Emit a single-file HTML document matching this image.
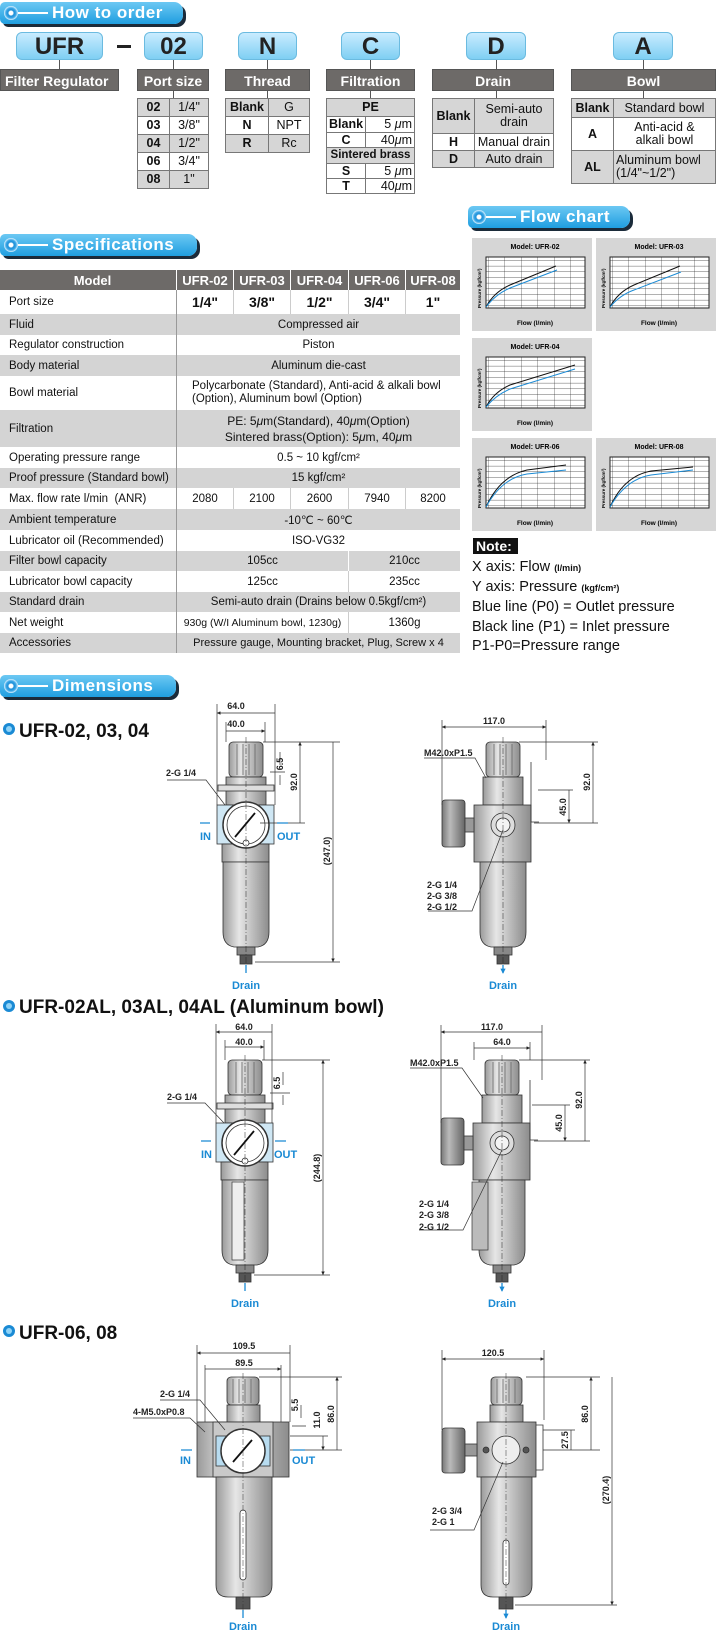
<!DOCTYPE html>
<html><head><meta charset="utf-8">
<style>
*{margin:0;padding:0;box-sizing:border-box}
body{width:717px;height:1631px;background:#fff;position:relative;overflow:hidden;font-family:"Liberation Sans",Arial,sans-serif;color:#111}
.a{position:absolute}
.band{position:absolute;height:22px;border-radius:5px 9px 9px 5px;background:linear-gradient(#6cc8f3,#1f9ee0);box-shadow:3px 3px 0 #1b2b3a;color:#fff;font-weight:bold;font-size:17px;line-height:22px;padding-left:52px;letter-spacing:.5px}
.band:before{content:"";position:absolute;left:4px;top:4px;width:14px;height:14px;border-radius:50%;background:radial-gradient(circle at 50% 50%,#fff 0 2px,#1b8fd8 3px,#3aa6e6 5px,#dff3ff 7px)}
.band:after{content:"";position:absolute;left:18px;top:10px;width:30px;height:2px;background:#fff}
.code{position:absolute;top:32px;height:28px;border-radius:6px;background:linear-gradient(#c9ecff,#7fcff3);border:1px solid #6bbbe0;font-size:24px;font-weight:bold;text-align:center;line-height:28px;color:#222}
.lab{position:absolute;top:69px;height:22px;background:#6d6a68;color:#fff;font-weight:bold;font-size:14px;text-align:center;line-height:22px;border:1px solid #555}
table.o{position:absolute;border-collapse:collapse;font-size:12.5px}
table.o td{border:1px solid #777;text-align:center;padding:0 2px;line-height:13px}
table.o tr.g td{background:#d6d6d6}
table.o td.b{font-weight:bold}
.vl{position:absolute;width:1px;background:#555}
.sp{position:absolute;left:0;width:460px;font-size:11.5px}
.sp div{position:absolute;top:0;height:100%;display:flex;align-items:center;justify-content:center;text-align:center}
.sp .l{left:0;width:177px;justify-content:flex-start;padding-left:9px;border-right:1px solid #999}
.g{background:#d4d4d4}
</style></head><body>

<div class="band" style="left:0;top:2px;width:183px">How to order</div>

<div class="code" style="left:16px;width:87px">UFR</div>
<div class="a" style="left:117px;top:45px;width:14px;height:3px;background:#222"></div>
<div class="code" style="left:144px;width:59px">02</div>
<div class="code" style="left:238px;width:59px">N</div>
<div class="code" style="left:341px;width:59px">C</div>
<div class="code" style="left:466px;width:60px">D</div>
<div class="code" style="left:613px;width:60px">A</div>
<div class="vl" style="left:59px;top:60px;height:9px"></div>
<div class="vl" style="left:173px;top:60px;height:9px"></div>
<div class="vl" style="left:267px;top:60px;height:9px"></div>
<div class="vl" style="left:370px;top:60px;height:9px"></div>
<div class="vl" style="left:496px;top:60px;height:9px"></div>
<div class="vl" style="left:643px;top:60px;height:9px"></div>
<div class="vl" style="left:173px;top:91px;height:7px"></div>
<div class="vl" style="left:267px;top:91px;height:7px"></div>
<div class="vl" style="left:370px;top:91px;height:7px"></div>
<div class="vl" style="left:496px;top:91px;height:7px"></div>
<div class="vl" style="left:643px;top:91px;height:7px"></div>

<div class="lab" style="left:0;width:119px;text-align:left;padding-left:4px">Filter Regulator</div>
<div class="lab" style="left:137px;width:72px">Port size</div>
<div class="lab" style="left:225px;width:85px">Thread</div>
<div class="lab" style="left:326px;width:89px">Filtration</div>
<div class="lab" style="left:432px;width:122px">Drain</div>
<div class="lab" style="left:571px;width:145px">Bowl</div>

<table class="o" style="left:137px;top:98px;width:72px">
<tr class="g" style="height:18px"><td class="b" style="width:32px">02</td><td>1/4"</td></tr>
<tr style="height:18px"><td class="b">03</td><td>3/8"</td></tr>
<tr class="g" style="height:18px"><td class="b">04</td><td>1/2"</td></tr>
<tr style="height:18px"><td class="b">06</td><td>3/4"</td></tr>
<tr class="g" style="height:18px"><td class="b">08</td><td>1"</td></tr>
</table>
<table class="o" style="left:225px;top:98px;width:85px">
<tr class="g" style="height:18px"><td class="b" style="width:43px">Blank</td><td>G</td></tr>
<tr style="height:18px"><td class="b">N</td><td>NPT</td></tr>
<tr class="g" style="height:18px"><td class="b">R</td><td>Rc</td></tr>
</table>
<table class="o" style="left:326px;top:98px;width:89px">
<tr class="g" style="height:18px"><td class="b" colspan="2">PE</td></tr>
<tr style="height:16px"><td class="b" style="width:38px">Blank</td><td style="text-align:right">5 <i>μ</i>m</td></tr>
<tr style="height:15px"><td class="b">C</td><td style="text-align:right">40<i>μ</i>m</td></tr>
<tr class="g" style="height:16px"><td class="b" colspan="2" style="font-size:11.5px">Sintered brass</td></tr>
<tr style="height:15px"><td class="b">S</td><td style="text-align:right">5 <i>μ</i>m</td></tr>
<tr style="height:15px"><td class="b">T</td><td style="text-align:right">40<i>μ</i>m</td></tr>
</table>
<table class="o" style="left:432px;top:98px;width:122px">
<tr class="g" style="height:35px"><td class="b" style="width:42px">Blank</td><td>Semi-auto<br>drain</td></tr>
<tr style="height:17px"><td class="b">H</td><td>Manual drain</td></tr>
<tr class="g" style="height:17px"><td class="b">D</td><td>Auto drain</td></tr>
</table>
<table class="o" style="left:571px;top:98px;width:145px">
<tr class="g" style="height:19px"><td class="b" style="width:42px">Blank</td><td>Standard bowl</td></tr>
<tr style="height:33px"><td class="b">A</td><td>Anti-acid &amp;<br>alkali bowl</td></tr>
<tr class="g" style="height:33px"><td class="b">AL</td><td style="text-align:left">Aluminum bowl<br>(1/4"~1/2")</td></tr>
</table>

<div class="band" style="left:0;top:234px;width:197px">Specifications</div>

<div class="sp" style="top:270px;height:20px;background:#6d6a68;color:#fff;font-weight:bold;font-size:13px">
<div class="l" style="justify-content:center;border-right:1px solid #fff">Model</div>
<div style="left:177px;width:57px;border-right:1px solid #fff">UFR-02</div><div style="left:234px;width:57px;border-right:1px solid #fff">UFR-03</div><div style="left:291px;width:58px;border-right:1px solid #fff">UFR-04</div><div style="left:349px;width:57px;border-right:1px solid #fff">UFR-06</div><div style="left:406px;width:54px">UFR-08</div></div>
<div class="sp" style="top:290px;height:24px;font-size:14px;font-weight:bold"><div class="l" style="font-size:11.5px;font-weight:normal">Port size</div>
<div style="left:177px;width:57px;border-right:1px solid #ccc">1/4"</div><div style="left:234px;width:57px;border-right:1px solid #ccc">3/8"</div><div style="left:291px;width:58px;border-right:1px solid #ccc">1/2"</div><div style="left:349px;width:57px;border-right:1px solid #ccc">3/4"</div><div style="left:406px;width:54px">1"</div></div>
<div class="sp g" style="top:314px;height:21px"><div class="l">Fluid</div><div style="left:177px;width:283px">Compressed air</div></div>
<div class="sp" style="top:335px;height:20px"><div class="l">Regulator construction</div><div style="left:177px;width:283px">Piston</div></div>
<div class="sp g" style="top:355px;height:21px"><div class="l">Body material</div><div style="left:177px;width:283px">Aluminum die-cast</div></div>
<div class="sp" style="top:376px;height:34px"><div class="l">Bowl material</div><div style="left:177px;width:283px;text-align:left;justify-content:flex-start;padding-left:15px;line-height:13px"><span>Polycarbonate (Standard), Anti-acid &amp; alkali bowl<br>(Option), Aluminum bowl (Option)</span></div></div>
<div class="sp g" style="top:410px;height:37px"><div class="l">Filtration</div><div style="left:177px;width:283px;line-height:16px;font-size:12px"><span>PE: 5<i>μ</i>m(Standard), 40<i>μ</i>m(Option)<br>Sintered brass(Option): 5<i>μ</i>m, 40<i>μ</i>m</span></div></div>
<div class="sp" style="top:447px;height:21px"><div class="l">Operating pressure range</div><div style="left:177px;width:283px">0.5 ~ 10 kgf/cm²</div></div>
<div class="sp g" style="top:468px;height:20px"><div class="l">Proof pressure (Standard bowl)</div><div style="left:177px;width:283px">15 kgf/cm²</div></div>
<div class="sp" style="top:488px;height:21px"><div class="l">Max. flow rate l/min&nbsp; (ANR)</div>
<div style="left:177px;width:57px;border-right:1px solid #ccc">2080</div><div style="left:234px;width:57px;border-right:1px solid #ccc">2100</div><div style="left:291px;width:58px;border-right:1px solid #ccc">2600</div><div style="left:349px;width:57px;border-right:1px solid #ccc">7940</div><div style="left:406px;width:54px">8200</div></div>
<div class="sp g" style="top:509px;height:21px"><div class="l">Ambient temperature</div><div style="left:177px;width:283px">-10℃ ~ 60℃</div></div>
<div class="sp" style="top:530px;height:21px"><div class="l">Lubricator oil (Recommended)</div><div style="left:177px;width:283px">ISO-VG32</div></div>
<div class="sp g" style="top:551px;height:20px"><div class="l">Filter bowl capacity</div><div style="left:177px;width:172px;border-right:1px solid #fff">105cc</div><div style="left:349px;width:111px">210cc</div></div>
<div class="sp" style="top:571px;height:21px"><div class="l">Lubricator bowl capacity</div><div style="left:177px;width:172px;border-right:1px solid #ccc">125cc</div><div style="left:349px;width:111px">235cc</div></div>
<div class="sp g" style="top:592px;height:20px"><div class="l">Standard drain</div><div style="left:177px;width:283px">Semi-auto drain (Drains below 0.5kgf/cm²)</div></div>
<div class="sp" style="top:612px;height:21px"><div class="l">Net weight</div><div style="left:177px;width:172px;border-right:1px solid #ccc;font-size:10.5px">930g (W/I Aluminum bowl, 1230g)</div><div style="left:349px;width:111px">1360g</div></div>
<div class="sp g" style="top:633px;height:20px"><div class="l">Accessories</div><div style="left:177px;width:283px;font-size:11px">Pressure gauge, Mounting bracket, Plug, Screw x 4</div></div>

<div class="band" style="left:468px;top:206px;width:162px">Flow chart</div>

<svg class="a" style="left:0;top:0" width="717" height="1631" viewBox="0 0 717 1631" font-family="Liberation Sans, Arial, sans-serif">
<defs>
<pattern id="grid" width="16.5" height="5.67" patternUnits="userSpaceOnUse"><path d="M16.5 0V5.67M0 5.67H16.5" stroke="#222" stroke-width=".6" fill="none"/></pattern>
<g id="chart">
<rect x="0" y="0" width="120" height="93" fill="#d6d6d6"/>
<rect x="14" y="19" width="99" height="51" fill="#fff" stroke="#222" stroke-width="1"/>
<rect x="14" y="19" width="99" height="51" fill="url(#grid)"/>
<text x="63" y="87" font-size="6.5" font-weight="bold" text-anchor="middle">Flow (l/min)</text>
<text transform="translate(9,70) rotate(-90)" font-size="4.5" font-weight="bold">Pressure (kgf/cm²)</text>
</g>
<linearGradient id="mg" x1="0" x2="1"><stop offset="0" stop-color="#9a9a9a"/><stop offset=".35" stop-color="#e6e6e6"/><stop offset="1" stop-color="#8c8c8c"/></linearGradient>
<linearGradient id="dg" x1="0" x2="1"><stop offset="0" stop-color="#777"/><stop offset=".35" stop-color="#bbb"/><stop offset="1" stop-color="#666"/></linearGradient>
<marker id="ar" viewBox="0 0 6 6" refX="6" refY="3" markerWidth="5" markerHeight="5" orient="auto-start-reverse"><path d="M0 0L6 3L0 6z" fill="#222"/></marker>
<marker id="ba" viewBox="0 0 6 6" refX="5" refY="3" markerWidth="4" markerHeight="4" orient="auto"><path d="M0 0L6 3L0 6z" fill="#1a8ad4"/></marker>
<g id="front" stroke="#333" stroke-width=".8">
<rect x="-17" y="0" width="34" height="35" rx="4" fill="url(#mg)"/>
<path d="M-9 2V33M-3 2V33M3 2V33M9 2V33" stroke="#666" fill="none"/>
<rect x="-20" y="35" width="40" height="28" fill="url(#mg)"/>
<rect x="-28" y="43" width="56" height="6" fill="#ddd"/>
<rect x="-29" y="63" width="57" height="39" fill="#cfe7f4"/>
<rect x="-24" y="102" width="47" height="18" fill="url(#mg)"/>
<circle cx="0" cy="83" r="23" fill="#fff" stroke-width="1.5"/>
<circle cx="0" cy="83" r="19" fill="#fff"/>
<path d="M-11 95L9 71" stroke="#111" stroke-width="1.8"/>
<circle cx="0" cy="101" r="3" fill="#fff"/>
<path d="M-23 120H23L23 190Q23 203 12 205H-12Q-23 203 -23 190Z" fill="url(#mg)"/>
<rect x="-9" y="205" width="18" height="8" fill="#888"/>
<rect x="-6" y="213" width="12" height="9" fill="#555"/>
<path d="M0 -5V225" stroke="#222" stroke-width=".5" stroke-dasharray="6 2 1 2"/>
</g>
<g id="side" stroke="#333" stroke-width=".8">
<rect x="-17" y="0" width="34" height="35" rx="4" fill="url(#mg)"/>
<path d="M-9 2V33M-3 2V33M3 2V33M9 2V33" stroke="#666" fill="none"/>
<rect x="-20" y="35" width="40" height="28" fill="url(#mg)"/>
<rect x="-29" y="63" width="57" height="57" fill="url(#mg)"/>
<rect x="-61" y="58" width="23" height="47" rx="3" fill="url(#dg)"/>
<rect x="-38" y="76" width="9" height="14" fill="#999"/>
<circle cx="0" cy="83" r="12" fill="#ddd"/><circle cx="0" cy="83" r="7" fill="#f4f4f4"/>
<path d="M28 20V80H36" fill="none"/>
<path d="M-23 120H23L23 190Q23 203 12 205H-12Q-23 203 -23 190Z" fill="url(#mg)"/>
<rect x="-9" y="205" width="18" height="8" fill="#888"/>
<rect x="-6" y="213" width="12" height="9" fill="#555"/>
<path d="M0 -5V225" stroke="#222" stroke-width=".5" stroke-dasharray="6 2 1 2"/>
</g>
</defs>

<g transform="translate(472,238)"><use href="#chart"/><text x="63" y="11" font-size="7" font-weight="bold" text-anchor="middle">Model: UFR-02</text>
<path d="M14 69Q22 54 38 47L84 28" stroke="#111" fill="none"/><path d="M14 69Q24 56 38 50L85 32" stroke="#1a8ad4" fill="none"/></g>
<g transform="translate(596,238)"><use href="#chart"/><text x="63" y="11" font-size="7" font-weight="bold" text-anchor="middle">Model: UFR-03</text>
<path d="M14 69Q22 54 38 47L84 28" stroke="#111" fill="none"/><path d="M14 69Q24 57 38 52L85 34" stroke="#1a8ad4" fill="none"/></g>
<g transform="translate(472,338)"><use href="#chart"/><text x="63" y="11" font-size="7" font-weight="bold" text-anchor="middle">Model: UFR-04</text>
<path d="M14 69Q22 54 38 47L103 27" stroke="#111" fill="none"/><path d="M14 69Q24 57 38 51L103 31" stroke="#1a8ad4" fill="none"/></g>
<g transform="translate(472,438)"><use href="#chart"/><text x="63" y="11" font-size="7" font-weight="bold" text-anchor="middle">Model: UFR-06</text>
<path d="M14 69Q28 38 55 32L94 27" stroke="#111" fill="none"/><path d="M14 69Q30 40 55 36L94 32" stroke="#1a8ad4" fill="none"/></g>
<g transform="translate(596,438)"><use href="#chart"/><text x="63" y="11" font-size="7" font-weight="bold" text-anchor="middle">Model: UFR-08</text>
<path d="M14 69Q28 38 55 33L97 29" stroke="#111" fill="none"/><path d="M14 69Q30 41 55 37L97 32" stroke="#1a8ad4" fill="none"/></g>

<rect x="473" y="538" width="45" height="16" fill="#111"/>
<text x="476" y="551" font-size="14" font-weight="bold" fill="#fff">Note:</text>
<g font-size="14.5" fill="#111">
<text x="472" y="571">X axis: Flow <tspan font-size="9" font-weight="bold">(l/min)</tspan></text>
<text x="472" y="591">Y axis: Pressure <tspan font-size="9" font-weight="bold">(kgf/cm²)</tspan></text>
<text x="472" y="611">Blue line (P0) = Outlet pressure</text>
<text x="472" y="631">Black line (P1) = Inlet pressure</text>
<text x="472" y="650">P1-P0=Pressure range</text>
</g>

<g font-weight="bold" font-size="19" fill="#111">
<circle cx="9" cy="729" r="6" fill="#1a8ad4"/><circle cx="9" cy="729" r="3" fill="#8fd3f7"/>
<text x="19" y="737">UFR-02, 03, 04</text>
<circle cx="9" cy="1006" r="6" fill="#1a8ad4"/><circle cx="9" cy="1006" r="3" fill="#8fd3f7"/>
<text x="19" y="1013">UFR-02AL, 03AL, 04AL (Aluminum bowl)</text>
<circle cx="9" cy="1331" r="6" fill="#1a8ad4"/><circle cx="9" cy="1331" r="3" fill="#8fd3f7"/>
<text x="19" y="1339">UFR-06, 08</text>
</g>

<g font-size="9" font-weight="bold" fill="#222" stroke-width=".7">
<use href="#front" transform="translate(246,742)"/>
<use href="#side" transform="translate(503,742)"/>
<g stroke="#333" fill="none">
<path d="M217 704V805M275 704V805M226 722V742M265 722V742"/>
<path d="M217 713H275M226 731H265" marker-start="url(#ar)" marker-end="url(#ar)"/>
<path d="M263 742H305M260 823H305M255 962H340M263 742H340"/>
<path d="M300 742V823M333 742V962" marker-start="url(#ar)" marker-end="url(#ar)"/>
<path d="M280 752V765M270 772H285M280 785V775"/>
<path d="M167 780H206L225 805"/>
<path d="M442 720V805M546 720V760M519 742H598M534 823H598M538 790H573"/>
<path d="M442 727H546" marker-start="url(#ar)" marker-end="url(#ar)"/>
<path d="M593 742V823M569 790V823" marker-start="url(#ar)" marker-end="url(#ar)"/>
<path d="M424 758H475L486 778"/>
<path d="M428 911H472L503 830"/>
</g>
<text x="236" y="709" text-anchor="middle">64.0</text>
<text x="236" y="727" text-anchor="middle">40.0</text>
<text transform="translate(297,782) rotate(-90)" text-anchor="middle">92.0</text>
<text transform="translate(283,764) rotate(-90)" text-anchor="middle">6.5</text>
<text transform="translate(330,851) rotate(-90)" text-anchor="middle">(247.0)</text>
<text x="166" y="776">2-G 1/4</text>
<text x="494" y="724" text-anchor="middle">117.0</text>
<text x="424" y="756">M42.0xP1.5</text>
<text transform="translate(590,782) rotate(-90)" text-anchor="middle">92.0</text>
<text transform="translate(566,807) rotate(-90)" text-anchor="middle">45.0</text>
<text x="427" y="888">2-G 1/4</text><text x="427" y="899">2-G 3/8</text><text x="427" y="910">2-G 1/2</text>

<use href="#front" transform="translate(245,1060)"/>
<use href="#side" transform="translate(502,1060)"/>
<rect x="232" y="1182" width="12" height="78" fill="#eee" stroke="#333"/>
<rect x="472" y="1182" width="16" height="68" fill="#bbb" stroke="#333"/>
<g stroke="#333" fill="none">
<path d="M216 1024V1123M272 1024V1123M225 1040V1060M264 1040V1060"/>
<path d="M216 1032H272M225 1047H264" marker-start="url(#ar)" marker-end="url(#ar)"/>
<path d="M262 1060H330M254 1275H330"/>
<path d="M323 1060V1275" marker-start="url(#ar)" marker-end="url(#ar)"/>
<path d="M283 1072V1085M270 1093H290M283 1105V1095"/>
<path d="M167 1103H205L224 1123"/>
<path d="M441 1025V1123M542 1025V1080M474 1042V1060M530 1042V1060M519 1060H590M534 1141H590M532 1105H570"/>
<path d="M441 1032H542M474 1048H530" marker-start="url(#ar)" marker-end="url(#ar)"/>
<path d="M585 1060V1141M565 1105V1141" marker-start="url(#ar)" marker-end="url(#ar)"/>
<path d="M410 1068H462L483 1098"/>
<path d="M419 1230H463L502 1150"/>
</g>
<text x="244" y="1030" text-anchor="middle">64.0</text>
<text x="244" y="1045" text-anchor="middle">40.0</text>
<text transform="translate(280,1083) rotate(-90)" text-anchor="middle">6.5</text>
<text transform="translate(320,1168) rotate(-90)" text-anchor="middle">(244.8)</text>
<text x="167" y="1100">2-G 1/4</text>
<text x="492" y="1030" text-anchor="middle">117.0</text>
<text x="502" y="1045" text-anchor="middle">64.0</text>
<text x="410" y="1066">M42.0xP1.5</text>
<text transform="translate(582,1100) rotate(-90)" text-anchor="middle">92.0</text>
<text transform="translate(562,1123) rotate(-90)" text-anchor="middle">45.0</text>
<text x="419" y="1207">2-G 1/4</text><text x="419" y="1218">2-G 3/8</text><text x="419" y="1230">2-G 1/2</text>

<g stroke="#333" stroke-width=".8">
<rect x="227" y="1377" width="32" height="28" rx="4" fill="url(#mg)"/>
<path d="M233 1379V1403M239 1379V1403M245 1379V1403M251 1379V1403" stroke="#666"/>
<rect x="227" y="1405" width="33" height="17" fill="url(#mg)"/>
<rect x="197" y="1422" width="92" height="55" fill="url(#mg)"/>
<rect x="213" y="1422" width="60" height="55" fill="#c9c9c9"/>
<rect x="216" y="1436" width="54" height="30" fill="#b8dcf0"/>
<circle cx="243" cy="1451" r="22" fill="#fff" stroke-width="1.5"/>
<path d="M233 1462L252 1440" stroke="#111" stroke-width="1.8"/>
<path d="M216 1477H272L272 1585Q272 1597 260 1597H228Q216 1597 216 1585Z" fill="url(#mg)"/>
<rect x="240" y="1510" width="6" height="70" rx="3" fill="#fff"/>
<rect x="236" y="1597" width="14" height="12" fill="#555"/>
<path d="M243 1373V1612" stroke-width=".5" stroke-dasharray="6 2 1 2"/>
</g>
<g stroke="#333" stroke-width=".8">
<rect x="491" y="1377" width="31" height="28" rx="4" fill="url(#mg)"/>
<path d="M497 1379V1403M503 1379V1403M509 1379V1403M515 1379V1403" stroke="#666"/>
<rect x="490" y="1405" width="33" height="17" fill="url(#mg)"/>
<rect x="477" y="1422" width="59" height="55" fill="url(#mg)"/>
<rect x="442" y="1428" width="23" height="45" rx="3" fill="url(#dg)"/>
<rect x="465" y="1444" width="12" height="12" fill="#999"/>
<circle cx="506" cy="1450" r="14" fill="#eee"/>
<circle cx="486" cy="1450" r="3" fill="#555"/><circle cx="526" cy="1450" r="3" fill="#555"/>
<path d="M481 1477H532L532 1585Q532 1597 520 1597H493Q481 1597 481 1585Z" fill="url(#mg)"/>
<rect x="503" y="1540" width="6" height="45" rx="3" fill="#fff"/>
<rect x="499" y="1597" width="14" height="12" fill="#555"/>
<path d="M536 1425H543V1470H536" fill="none"/>
<path d="M506 1373V1612" stroke-width=".5" stroke-dasharray="6 2 1 2"/>
</g>
<g stroke="#333" fill="none">
<path d="M197 1345V1422M290 1345V1422M205 1365V1422M281 1365V1422"/>
<path d="M197 1353H290M205 1369H281" marker-start="url(#ar)" marker-end="url(#ar)"/>
<path d="M259 1377H342M290 1450H342M290 1436H328"/>
<path d="M337 1377V1450M323 1436V1450" marker-start="url(#ar)" marker-end="url(#ar)"/>
<path d="M301 1405V1418M292 1426H306"/>
<path d="M160 1400H200L225 1430M133 1418H190L205 1432"/>
<path d="M442 1350V1430M544 1350V1420M526 1377H600M543 1450H600M543 1430H575"/>
<path d="M442 1359H544" marker-start="url(#ar)" marker-end="url(#ar)"/>
<path d="M591 1377V1450M571 1430V1450M612 1377V1605" marker-start="url(#ar)" marker-end="url(#ar)"/>
<path d="M515 1605H617"/>
<path d="M430 1530H474L503 1462"/>
</g>
<text x="244" y="1349" text-anchor="middle">109.5</text>
<text x="244" y="1366" text-anchor="middle">89.5</text>
<text transform="translate(334,1414) rotate(-90)" text-anchor="middle">86.0</text>
<text transform="translate(320,1420) rotate(-90)" text-anchor="middle">11.0</text>
<text transform="translate(298,1405) rotate(-90)" text-anchor="middle">5.5</text>
<text x="160" y="1397">2-G 1/4</text>
<text x="133" y="1415">4-M5.0xP0.8</text>
<text x="493" y="1356" text-anchor="middle">120.5</text>
<text transform="translate(588,1414) rotate(-90)" text-anchor="middle">86.0</text>
<text transform="translate(568,1440) rotate(-90)" text-anchor="middle">27.5</text>
<text transform="translate(609,1490) rotate(-90)" text-anchor="middle">(270.4)</text>
<text x="432" y="1514">2-G 3/4</text><text x="432" y="1525">2-G 1</text>
</g>

<g fill="#1a8ad4" font-weight="bold" font-size="11" stroke="#1a8ad4" stroke-width="1.3">
<path d="M200 823H210M277 823H288M246 965V973M503 965V973" marker-end="url(#ba)"/>
<path d="M201 1141H211M275 1141H286M245 1283V1291M502 1283V1291" marker-end="url(#ba)"/>
<path d="M181 1450H192M293 1450H305M243 1610V1618M506 1610V1618" marker-end="url(#ba)"/>
<g stroke="none">
<text x="200" y="840">IN</text><text x="277" y="840">OUT</text>
<text x="246" y="989" text-anchor="middle">Drain</text><text x="503" y="989" text-anchor="middle">Drain</text>
<text x="201" y="1158">IN</text><text x="274" y="1158">OUT</text>
<text x="245" y="1307" text-anchor="middle">Drain</text><text x="502" y="1307" text-anchor="middle">Drain</text>
<text x="180" y="1464">IN</text><text x="292" y="1464">OUT</text>
<text x="243" y="1630" text-anchor="middle">Drain</text><text x="506" y="1630" text-anchor="middle">Drain</text>
</g></g>
</svg>

<div class="band" style="left:0;top:675px;width:176px">Dimensions</div>
</body></html>
